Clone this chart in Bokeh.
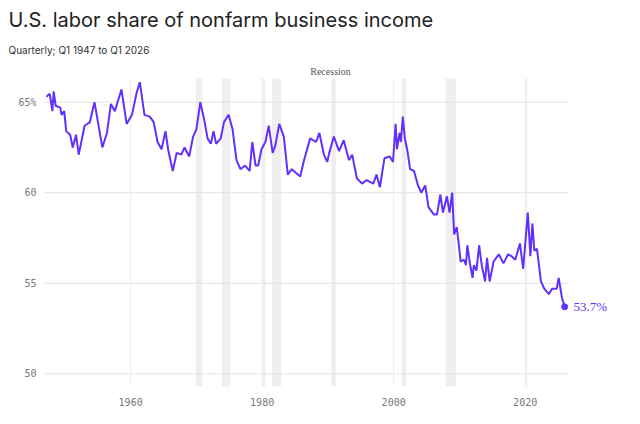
from bokeh.plotting import figure
from bokeh.models import Title, Label, Range1d, FixedTicker
from bokeh.embed import file_html
from bokeh.resources import INLINE

years = [1947.2,1947.7,1948.1,1948.3,1948.6,1949.3,1949.5,1949.9,1950.2,1950.8,1951.2,1951.7,1952.1,1953.0,1953.8,1954.5,1955.7,1956.4,1957.0,1957.6,1958.6,1959.4,1960.2,1960.9,1961.4,1962.1,1962.9,1963.5,1964.1,1964.7,1965.3,1965.7,1966.4,1967.0,1967.7,1968.2,1968.9,1969.5,1970.0,1970.6,1971.2,1971.7,1972.2,1972.6,1973.0,1973.7,1974.2,1974.9,1975.5,1976.1,1976.7,1977.4,1978.1,1978.5,1979.0,1979.4,1979.9,1980.5,1981.0,1981.6,1982.0,1982.6,1983.3,1983.9,1984.5,1985.8,1986.3,1987.3,1988.2,1988.7,1989.4,1989.9,1990.2,1990.9,1991.7,1992.4,1993.2,1993.7,1994.4,1995.2,1995.9,1996.9,1997.4,1997.9,1998.6,1999.4,1999.9,2000.3,2000.5,2000.9,2001.1,2001.4,2001.7,2002.1,2002.5,2003.1,2003.7,2004.2,2004.8,2005.3,2006.1,2006.6,2007.1,2007.5,2008.1,2008.5,2008.9,2009.2,2009.6,2010.2,2010.7,2011.0,2011.2,2011.6,2012.0,2012.2,2012.6,2013.0,2013.4,2013.9,2014.2,2014.6,2015.2,2016.0,2016.7,2017.4,2017.9,2018.5,2019.2,2019.7,2020.4,2020.8,2021.1,2021.4,2021.8,2022.4,2022.9,2023.6,2024.1,2024.8,2025.1,2025.6,2026.0]
share = [65.3,65.46,64.5,65.6,64.8,64.7,64.3,64.5,63.4,63.2,62.5,63.2,62.1,63.7,63.9,65.0,62.5,63.3,64.9,64.5,65.7,63.8,64.3,65.5,66.1,64.3,64.2,63.9,62.8,62.4,63.4,62.4,61.2,62.2,62.1,62.5,62.0,63.1,63.5,65.0,64.0,63.0,62.7,63.4,62.7,63.0,63.9,64.3,63.5,61.8,61.3,61.5,61.2,62.8,61.5,61.5,62.4,62.8,63.7,62.2,62.6,63.8,63.1,61.0,61.3,60.9,61.7,63.0,62.8,63.3,62.1,61.7,62.2,63.1,62.3,62.9,61.8,62.1,60.8,60.5,60.7,60.5,61.0,60.3,61.9,62.0,61.7,63.8,62.4,63.3,62.8,64.2,63.0,62.3,61.3,61.2,60.4,60.0,60.4,59.2,58.8,58.8,59.9,58.9,59.8,58.9,60.0,57.7,58.1,56.2,56.3,56.0,57.1,56.1,55.3,56.0,55.7,57.1,56.0,55.1,56.4,55.1,56.2,56.6,56.1,56.6,56.5,56.3,57.2,55.8,58.9,56.5,58.3,56.8,56.9,55.1,54.7,54.4,54.7,54.7,55.3,54.2,53.7]
rec_start = [1969.9,1973.9,1980.0,1981.5,1990.5,2001.2,2007.9,2020.05]
rec_end = [1970.9,1975.2,1980.5,1982.9,1991.2,2001.9,2009.5,2020.3]
y_ticks = [50,55,60,65]
y_labels = {50:"50",55:"55",60:"60",65:"65%"}
x_ticks = [1960,1980,2000,2020]

X0, X1, Y0, Y1 = 1946.9, 2026.5, 49.3, 66.3
mono = "DejaVu Sans Mono"
purple = "#6130ff"
p = figure(width=624, height=408, output_backend="svg", toolbar_location=None,
           x_range=Range1d(X0, 2034.5), y_range=Range1d(Y0, 67.3),
           min_border_left=44, min_border_right=4, min_border_top=15, min_border_bottom=10)
p.outline_line_color = None
p.add_layout(Title(text="Quarterly; Q1 1947 to Q1 2026", text_font="Inter", text_font_size="10px",
                   text_font_style="normal", text_color="#333333", offset=-36), "above")
p.add_layout(Title(text="U.S. labor share of nonfarm business income", text_font="Inter",
                   text_font_size="20px", text_font_style="normal", text_color="#222222", offset=-36), "above")

p.quad(left=rec_start, right=rec_end, bottom=Y0, top=Y1, fill_color="#efefef", line_color=None)
p.segment(x0=X0, x1=X1, y0=y_ticks, y1=y_ticks, line_color="#e3e3e3", line_width=1)
p.segment(x0=x_ticks, x1=x_ticks, y0=Y0, y1=Y1, line_color="#ececec", line_width=1)
p.line(years, share, line_color=purple, line_width=2)
p.scatter([years[-1]], [share[-1]], size=6, color=purple)
p.text([years[-1]], [share[-1]], text=["53.7%"], x_offset=9, text_baseline="middle",
       text_font=mono, text_font_size="13px", text_color=purple)
p.text([1990.4], [Y1], text=["Recession"], y_offset=-2, text_align="center", text_baseline="bottom",
       text_font="Inter", text_font_size="10px", text_color="#555555")

p.yaxis.ticker = FixedTicker(ticks=y_ticks)
p.yaxis.major_label_overrides = y_labels
p.xaxis.ticker = FixedTicker(ticks=x_ticks)
for ax in (p.xaxis, p.yaxis):
    ax.axis_line_color = None
    ax.major_tick_line_color = None
    ax.minor_tick_line_color = None
    ax.major_label_text_font = mono
    ax.major_label_text_font_size = "10px"
    ax.major_label_text_color = "#777777"
p.yaxis.major_label_standoff = 2
p.xgrid.grid_line_color = None
p.ygrid.grid_line_color = None

open("out.html", "w").write(file_html(p, INLINE))
